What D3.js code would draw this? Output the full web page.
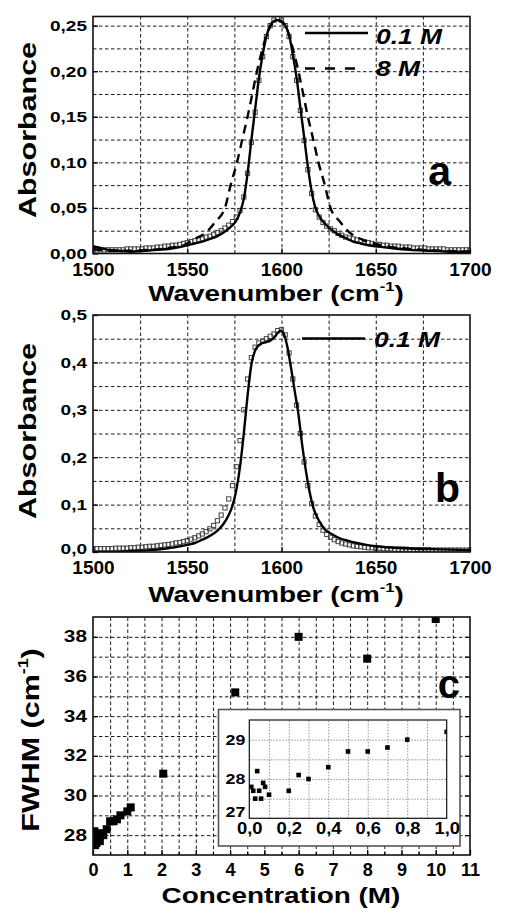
<!DOCTYPE html>
<html><head><meta charset="utf-8">
<script src="https://cdn.jsdelivr.net/npm/d3@7"></script>
<style>
body{margin:0;background:#fff}
svg{display:block}
text{font-family:"Liberation Sans",Arial,sans-serif;font-weight:bold;fill:#000}
</style>
</head><body>
<svg id="fig" width="505" height="922"></svg>
<script>
// ---------- Panel a data ----------
const solidA_wn = [1500,1504,1508,1514,1520,1528,1534,1540,1546,1550,1554,1558,1562,1566,1570,1574,1576,1578,1580,1582,1584,1586,1588,1590,1592,1594,1596,1598,1600,1602,1604,1606,1608,1610,1612,1614,1616,1618,1620,1622,1626,1630,1634,1638,1642,1646,1650,1658,1668,1680,1690,1700];
const solidA_abs = [0.008,0.006,0.004,0.003,0.002,0.003,0.004,0.005,0.007,0.009,0.011,0.013,0.016,0.019,0.024,0.031,0.036,0.045,0.060,0.088,0.124,0.158,0.192,0.218,0.238,0.250,0.255,0.256,0.255,0.250,0.240,0.218,0.193,0.160,0.128,0.095,0.068,0.050,0.041,0.035,0.027,0.021,0.017,0.013,0.011,0.009,0.008,0.006,0.004,0.003,0.002,0.002];
const dashA_wn = [1500,1510,1520,1530,1540,1548,1553,1561,1565,1570,1573,1576.4,1579.5,1582,1584.5,1587,1590,1593,1598,1603,1606,1609,1611.5,1614,1616.5,1619.6,1623,1626,1631,1635,1643,1653,1668,1685,1700];
const dashA_abs = [0.005,0.003,0.003,0.004,0.006,0.009,0.015,0.025,0.035,0.050,0.075,0.100,0.128,0.150,0.175,0.200,0.225,0.245,0.256,0.245,0.225,0.200,0.175,0.150,0.128,0.100,0.075,0.050,0.035,0.025,0.015,0.009,0.005,0.003,0.002];
const sqA_wn = d3.range(1500, 1701, 2);
const sqA_abs = [0.004,0.004,0.004,0.004,0.004,0.004,0.004,0.004,0.004,0.005,0.005,0.005,0.005,0.005,0.006,0.006,0.006,0.007,0.007,0.008,
  0.008,0.009,0.009,0.010,0.011,0.012,0.013,0.014,0.015,0.016,0.018,0.019,0.021,0.023,0.025,0.028,0.031,0.035,0.040,0.047,
  0.062,0.088,0.122,0.155,0.190,0.216,0.238,0.250,0.256,0.258,0.256,0.250,0.238,0.216,0.190,0.157,0.124,0.092,0.066,0.048,
  0.040,0.034,0.030,0.027,0.025,0.022,0.020,0.018,0.017,0.016,0.015,0.014,0.013,0.012,0.011,0.010,0.010,0.009,0.009,0.008,
  0.008,0.008,0.007,0.007,0.007,0.006,0.006,0.006,0.006,0.005,0.005,0.005,0.005,0.005,0.004,0.004,0.004,0.004,0.004,0.004,0.004];

// ---------- Panel b data ----------
const solidB_wn = [1500,1510,1520,1530,1540,1546,1550,1554,1558,1562,1566,1569,1572,1574,1576,1578,1580,1582,1584,1586,1588,1590,1592,1594,1596,1598,1599.5,1601,1603,1605,1607,1609,1611,1613,1615,1617,1620,1623,1627,1631,1635,1640,1645,1650,1660,1670,1680,1690,1700];
const solidB_abs = [0.000,0.000,0.002,0.004,0.008,0.012,0.015,0.019,0.026,0.034,0.045,0.058,0.078,0.098,0.130,0.180,0.250,0.330,0.395,0.425,0.436,0.441,0.443,0.446,0.452,0.462,0.467,0.462,0.435,0.390,0.340,0.290,0.225,0.170,0.125,0.092,0.065,0.048,0.037,0.029,0.024,0.019,0.015,0.012,0.009,0.007,0.006,0.005,0.004];
const sqB_wn = d3.range(1500, 1701, 2);
const sqB_abs = [0.007,0.007,0.007,0.007,0.007,0.007,0.008,0.008,0.008,0.008,0.009,0.009,0.010,0.010,0.011,0.012,0.012,0.013,0.014,0.015,
  0.016,0.017,0.019,0.020,0.022,0.024,0.027,0.030,0.034,0.038,0.043,0.049,0.056,0.066,0.078,0.093,0.112,0.140,0.180,0.235,
  0.300,0.365,0.410,0.432,0.441,0.445,0.450,0.455,0.460,0.467,0.469,0.458,0.420,0.365,0.310,0.250,0.190,0.140,0.102,0.076,
  0.058,0.046,0.037,0.031,0.026,0.022,0.019,0.017,0.015,0.013,0.012,0.011,0.010,0.009,0.009,0.008,0.008,0.007,0.007,0.007,
  0.006,0.006,0.006,0.006,0.005,0.005,0.005,0.005,0.005,0.005,0.004,0.004,0.004,0.004,0.004,0.004,0.004,0.004,0.004,0.004,0.004];

// ---------- Panel c data ----------
const concMain = [0.01,0.02,0.03,0.04,0.05,0.06,0.07,0.08,0.10,0.20,0.25,0.30,0.40,0.50,0.60,0.70,0.80,1.00,1.10,2.05,4.15,6.0,8.0,10.0];
const fwhmMain = [27.8,27.7,27.5,28.2,27.7,27.5,27.9,27.8,27.6,27.7,28.1,28.0,28.3,28.7,28.7,28.8,29.0,29.2,29.4,31.1,35.2,38.0,36.9,38.9];
const concInset = [0.01,0.02,0.03,0.04,0.05,0.06,0.07,0.08,0.10,0.20,0.25,0.30,0.40,0.50,0.60,0.70,0.80,1.00];
const fwhmInset = [27.8,27.7,27.5,28.2,27.7,27.5,27.9,27.8,27.6,27.7,28.1,28.0,28.3,28.7,28.7,28.8,29.0,29.2];

// ---------- tick labels ----------
const xTicksSpec = [1500,1550,1600,1650,1700];
const yTicksA = [0,0.05,0.10,0.15,0.20,0.25];
const yTicksB = [0,0.1,0.2,0.3,0.4,0.5];
const xTicksC = [0,1,2,3,4,5,6,7,8,9,10,11];
const yTicksC = [28,30,32,34,36,38];
const xTicksI = [0,0.2,0.4,0.6,0.8,1.0];
const yTicksI = [27,28,29];
const legendA = ["0.1 M","8 M"];
const legendB = ["0.1 M"];

const svg = d3.select("#fig");
svg.append("rect").attr("width",505).attr("height",922).attr("fill","#fff");
const comma = f => d => d3.format(f)(d).replace(".", ",");
const FONT = '"Liberation Sans",Arial,sans-serif';

function sText(g, str, x, y, size, sx, anchor, rot) {
  const t = g.append("text")
    .attr("transform", `translate(${x},${y})` + (rot ? ` rotate(${rot})` : "") + ` scale(${sx},1)`)
    .attr("text-anchor", anchor).attr("font-size", size);
  return t.text(str);
}

function panel(opts) {
  const {x, y, gridX, gridY, xTicks, yTicks, yFmt, id} = opts;
  const [x0, x1] = x.range(), [y0, y1] = y.range();
  const g = svg.append("g");
  g.append("g").attr("transform", `translate(0,${y0})`)
    .call(d3.axisBottom(x).tickValues(gridX).tickSize(-(y0 - y1)).tickFormat(""))
    .call(s => s.select(".domain").remove())
    .selectAll("line").attr("stroke", "#000").attr("stroke-width", 0.9).attr("stroke-dasharray", "3.5,2.5");
  g.append("g").attr("transform", `translate(${x0},0)`)
    .call(d3.axisLeft(y).tickValues(gridY).tickSize(-(x1 - x0)).tickFormat(""))
    .call(s => s.select(".domain").remove())
    .selectAll("line").attr("stroke", "#000").attr("stroke-width", 0.9).attr("stroke-dasharray", "3.5,2.5");
  svg.append("clipPath").attr("id", id).append("rect")
    .attr("x", x0).attr("y", y1).attr("width", x1 - x0).attr("height", y0 - y1);
  const plot = g.append("g").attr("clip-path", `url(#${id})`);
  const xa = g.append("g").attr("transform", `translate(0,${y0})`)
    .call(d3.axisBottom(x).tickValues(xTicks).tickSize(-5).tickPadding(opts.xPad).tickFormat(opts.xFmt || d3.format("d")));
  xa.select(".domain").remove();
  xa.selectAll("line").attr("stroke", "#000").attr("stroke-width", 1.3);
  xa.selectAll("text").attr("font-size", opts.xSize).attr("fill", "#000")
    .attr("font-family", FONT).attr("font-weight", "bold");
  const ya = g.append("g").attr("transform", `translate(${x0},0)`)
    .call(d3.axisLeft(y).tickValues(yTicks).tickSize(-5).tickFormat(yFmt));
  ya.select(".domain").remove();
  ya.selectAll("line").attr("stroke", "#000").attr("stroke-width", 1.3);
  ya.selectAll("text").attr("font-size", opts.ySize).attr("fill", "#000")
    .attr("font-family", FONT).attr("font-weight", "bold")
    .attr("transform", `scale(${opts.ySx},1)`).attr("x", -opts.yPad / opts.ySx);
  g.append("rect").attr("x", x0).attr("y", y1).attr("width", x1 - x0).attr("height", y0 - y1)
    .attr("fill", "none").attr("stroke", "#111").attr("stroke-width", 1.6);
  return {g, plot, ya};
}

const lineGen = (xs, ys) => d3.line().x(d => xs(d[0])).y(d => ys(d[1])).curve(d3.curveMonotoneX);
const zip = (a, b) => a.map((v, i) => [v, b[i]]);

// ================= Panel a =================
const xA = d3.scaleLinear().domain([1500, 1700]).range([93, 470]);
const yA = d3.scaleLinear().domain([0, 0.26]).range([253.5, 16.5]);
const pA = panel({x: xA, y: yA, id: "clipA",
  gridX: d3.range(1525, 1700, 25), gridY: d3.range(1, 11).map(i => i * 0.025),
  xTicks: xTicksSpec, yTicks: yTicksA, yFmt: comma(".2f"),
  xPad: 9, xSize: 19, ySize: 15, ySx: 1.27, yPad: 6});
pA.plot.append("g").selectAll("rect").data(zip(sqA_wn, sqA_abs)).join("rect")
  .attr("x", d => xA(d[0]) - 2.1).attr("y", d => yA(d[1]) - 2.1).attr("width", 4.2).attr("height", 4.2)
  .attr("fill", "none").attr("stroke", "#444").attr("stroke-width", 1);
pA.plot.append("path").datum(zip(dashA_wn, dashA_abs)).attr("d", lineGen(xA, yA))
  .attr("fill", "none").attr("stroke", "#000").attr("stroke-width", 2.4).attr("stroke-dasharray", "9,6");
pA.plot.append("path").datum(zip(solidA_wn, solidA_abs)).attr("d", lineGen(xA, yA))
  .attr("fill", "none").attr("stroke", "#000").attr("stroke-width", 2.4);
pA.g.append("line").attr("x1", 305).attr("x2", 368).attr("y1", 33).attr("y2", 33).attr("stroke", "#000").attr("stroke-width", 2.4);
pA.g.append("line").attr("x1", 305).attr("x2", 360).attr("y1", 68.5).attr("y2", 68.5).attr("stroke", "#000").attr("stroke-width", 2.4).attr("stroke-dasharray", "10,10");
sText(pA.g, legendA[0], 376, 43.5, 22, 1.2, "start").attr("font-style", "italic");
sText(pA.g, legendA[1], 376, 76, 22, 1.2, "start").attr("font-style", "italic");
sText(pA.g, "a", 451, 185, 41, 1.0, "end");
const tA = sText(svg, "Wavenumber (cm", 276, 301, 22, 1.27, "middle");
tA.append("tspan").attr("font-size", 13).attr("dy", -10).text("-1");
tA.append("tspan").attr("dy", 10).text(")");
sText(svg, "Absorbance", 36, 130, 24, 1.27, "middle", -90);

// ================= Panel b =================
const yB = d3.scaleLinear().domain([0, 0.5]).range([552, 315]);
const pB = panel({x: xA.copy(), y: yB, id: "clipB",
  gridX: d3.range(1525, 1700, 25), gridY: d3.range(1, 10).map(i => i * 0.05),
  xTicks: xTicksSpec, yTicks: yTicksB, yFmt: comma(".1f"),
  xPad: 9, xSize: 19, ySize: 15, ySx: 1.27, yPad: 6});
pB.ya.selectAll("text").filter(d => d === 0).attr("dy", "0.1em");
pB.plot.append("g").selectAll("rect").data(zip(sqB_wn, sqB_abs)).join("rect")
  .attr("x", d => xA(d[0]) - 2.1).attr("y", d => yB(d[1]) - 2.1).attr("width", 4.2).attr("height", 4.2)
  .attr("fill", "none").attr("stroke", "#444").attr("stroke-width", 1);
pB.plot.append("path").datum(zip(solidB_wn, solidB_abs)).attr("d", lineGen(xA, yB))
  .attr("fill", "none").attr("stroke", "#000").attr("stroke-width", 2.4);
pB.g.append("line").attr("x1", 302).attr("x2", 365).attr("y1", 338.5).attr("y2", 338.5).attr("stroke", "#000").attr("stroke-width", 2.4);
sText(pB.g, legendB[0], 374, 347, 22, 1.2, "start").attr("font-style", "italic");
sText(pB.g, "b", 460, 502, 41, 1.0, "end");
const tB = sText(svg, "Wavenumber (cm", 276, 601.5, 22, 1.27, "middle");
tB.append("tspan").attr("font-size", 13).attr("dy", -10).text("-1");
tB.append("tspan").attr("dy", 10).text(")");
sText(svg, "Absorbance", 36, 431, 24, 1.27, "middle", -90);

// ================= Panel c =================
const xC = d3.scaleLinear().domain([0, 11]).range([93, 470]);
const yC = d3.scaleLinear().domain([27, 39]).range([855, 617]);
const pC = panel({x: xC, y: yC, id: "clipC",
  gridX: d3.range(1, 22).map(i => i * 0.5), gridY: d3.range(28, 39),
  xTicks: xTicksC, yTicks: yTicksC, yFmt: d3.format("d"),
  xPad: 8, xSize: 18, ySize: 16, ySx: 1.3, yPad: 6});
pC.g.append("g").attr("transform", "translate(0,855)")
  .call(d3.axisBottom(xC).tickValues(d3.range(0, 11).map(i => i + 0.5)).tickSize(-3).tickFormat(""))
  .call(s => s.select(".domain").remove()).selectAll("line").attr("stroke", "#000").attr("stroke-width", 1.2);
pC.g.append("g").attr("transform", "translate(470,0)")
  .call(d3.axisRight(yC).tickValues(d3.range(28, 39)).tickSize(-5).tickFormat(""))
  .call(s => s.select(".domain").remove()).selectAll("line").attr("stroke", "#000").attr("stroke-width", 1.2);
pC.plot.append("g").selectAll("rect").data(zip(concMain, fwhmMain)).join("rect")
  .attr("x", d => xC(d[0]) - 4).attr("y", d => yC(d[1]) - 4).attr("width", 8).attr("height", 8).attr("fill", "#000");
sText(pC.g, "c", 460, 698, 40, 1.0, "end");
sText(svg, "Concentration (M)", 281, 902.5, 22, 1.27, "middle");
const tC = sText(svg, "FWHM (cm", 39, 740, 24, 1.27, "middle", -90);
tC.append("tspan").attr("font-size", 14).attr("dy", -11).text("-1");
tC.append("tspan").attr("dy", 11).text(")");

// ================= Inset =================
const gi = svg.append("g");
gi.append("rect").attr("x", 218.5).attr("y", 709.5).attr("width", 241.5).attr("height", 136.5)
  .attr("fill", "#fff").attr("stroke", "#555").attr("stroke-width", 1.6);
const xI = d3.scaleLinear().domain([0, 1]).range([249.3, 446.7]);
const yI = d3.scaleLinear().domain([27, 29.5]).range([818.3, 720]);
gi.append("g").attr("transform", "translate(0,818.3)")
  .call(d3.axisBottom(xI).tickValues(d3.range(1, 10).map(i => i / 10)).tickSize(-98.3).tickFormat(""))
  .call(s => s.select(".domain").remove())
  .selectAll("line").attr("stroke", "#777").attr("stroke-width", 0.8).attr("stroke-dasharray", "1.5,1.5");
gi.append("g").attr("transform", "translate(249.3,0)")
  .call(d3.axisLeft(yI).tickValues([27.5, 28, 28.5, 29]).tickSize(-197.4).tickFormat(""))
  .call(s => s.select(".domain").remove())
  .selectAll("line").attr("stroke", "#777").attr("stroke-width", 0.8).attr("stroke-dasharray", "1.5,1.5");
svg.append("clipPath").attr("id", "clipI").append("rect").attr("x", 249.3).attr("y", 720).attr("width", 197.4).attr("height", 98.3);
gi.append("g").attr("clip-path", "url(#clipI)").selectAll("rect").data(zip(concInset, fwhmInset)).join("rect")
  .attr("x", d => xI(d[0]) - 2.3).attr("y", d => yI(d[1]) - 2.3).attr("width", 4.6).attr("height", 4.6).attr("fill", "#000");
const xia = gi.append("g").attr("transform", "translate(0,818.3)")
  .call(d3.axisBottom(xI).tickValues(xTicksI).tickSize(0).tickPadding(4).tickFormat(comma(".1f")));
xia.select(".domain").remove();
xia.selectAll("text").attr("font-size", 16).attr("fill", "#000").attr("font-family", FONT)
  .attr("font-weight", "bold").attr("transform", "scale(1.15,1)");
const yia = gi.append("g").attr("transform", "translate(249.3,0)")
  .call(d3.axisLeft(yI).tickValues(yTicksI).tickSize(0).tickFormat(d3.format("d")));
yia.select(".domain").remove();
yia.selectAll("text").attr("font-size", 14).attr("fill", "#000").attr("font-family", FONT)
  .attr("font-weight", "bold").attr("transform", "scale(1.27,1)").attr("x", -4 / 1.27);
// lift "27" so it sits just above the "0,0" label
yia.selectAll("text").filter(d => d === 27).attr("dy", "-0.12em");
gi.append("rect").attr("x", 249.3).attr("y", 720).attr("width", 197.4).attr("height", 98.3)
  .attr("fill", "none").attr("stroke", "#111").attr("stroke-width", 1.2);
</script>
</body></html>
